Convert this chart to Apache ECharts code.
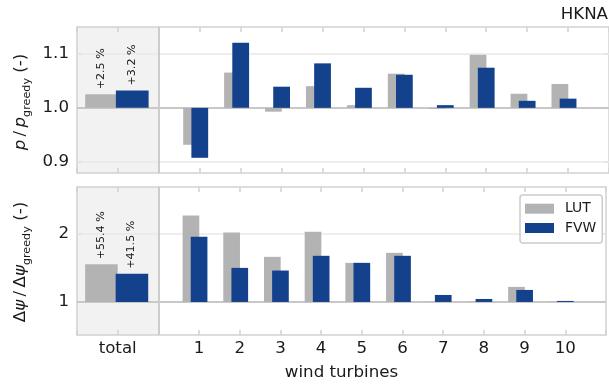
<!DOCTYPE html>
<html>
<head>
<meta charset="utf-8">
<script src="https://cdn.jsdelivr.net/npm/echarts@6/dist/echarts.min.js"></script>
<style>html,body{margin:0;padding:0;background:#fff}#c{width:609px;height:384px}</style>
</head>
<body>
<div id="c"></div>
<script>
// ---- data ----
const categories = ['total', '1', '2', '3', '4', '5', '6', '7', '8', '9', '10'];
const powerLUT = [1.025, 0.932, 1.065, 0.993, 1.040, 1.005, 1.063, 0.998, 1.098, 1.026, 1.044];
const powerFVW = [1.032, 0.908, 1.120, 1.039, 1.082, 1.037, 1.061, 1.005, 1.074, 1.013, 1.017];
const yawLUT = [1.554, 2.275, 2.024, 1.665, 2.034, 1.576, 1.724, 1.003, 1.005, 1.222, 1.005];
const yawFVW = [1.415, 1.960, 1.502, 1.463, 1.680, 1.576, 1.680, 1.103, 1.044, 1.177, 1.015];
const powerTotalLabels = ['+2.5 %', '+3.2 %'];
const yawTotalLabels = ['+55.4 %', '+41.5 %'];
const powerTicks = [0.9, 1.0, 1.1];
const yawTicks = [1, 2];
const seriesNames = ['LUT', 'FVW'];
const title = 'HKNA';

// ---- style ----
const FONT = 'DejaVu Sans';
const TXT = '#1a1a1a';
const GRAY = '#b3b3b3';
const BLUE = '#14418c';
const SPINE = '#d2d2d2';

function xPos(i) { return i === 0 ? 0 : i + 1; }
function build(values, label) {
  return values.map((v, i) => [xPos(i), v, i === 0 ? label : '']);
}

function makeRender(kind) {
  return function (params, api) {
    const x = api.value(0), v = api.value(1);
    const lab = api.value(2);
    const isTotal = x === 0;
    const w = isTotal ? 0.8 : 0.41;
    let off;
    if (kind === 0) off = isTotal ? -0.4 : -0.2;
    else off = isTotal ? 0.35 : 0;
    const p1 = api.coord([x + off - w / 2, 1]);
    const p2 = api.coord([x + off + w / 2, v]);
    const children = [{
      type: 'rect',
      shape: { x: Math.min(p1[0], p2[0]), y: Math.min(p1[1], p2[1]), width: Math.abs(p2[0] - p1[0]), height: Math.abs(p2[1] - p1[1]) },
      style: { fill: api.visual('color') }
    }];
    if (lab) {
      children.push({
        type: 'text',
        x: (p1[0] + p2[0]) / 2 - 0.5,
        y: Math.min(p1[1], p2[1]) - 5,
        rotation: Math.PI / 2,
        style: { text: lab, fontFamily: FONT, fontSize: 11.1, fill: TXT, align: 'left', verticalAlign: 'middle' }
      });
    }
    return { type: 'group', children: children };
  };
}

function xAxisDef(grid, pos, showLabels) {
  return {
    type: 'value', gridIndex: grid, position: pos, min: -1, max: 12, interval: 1,
    axisLine: { show: true, onZero: false, lineStyle: { color: SPINE, width: 1.5 } },
    axisTick: { show: true, inside: true, length: 5, lineStyle: { color: SPINE, width: 1.5 } },
    axisLabel: {
      show: showLabels, margin: 5, fontFamily: FONT, fontSize: 16.67, color: TXT,
      formatter: function (v) { if (v === 0) return categories[0]; if (v >= 2 && v <= 11) return categories[v - 1]; return ''; }
    },
    splitLine: { show: false },
    name: showLabels ? 'wind turbines' : '', nameLocation: 'middle', nameGap: 29,
    nameTextStyle: { fontFamily: FONT, fontSize: 16.67, color: TXT }
  };
}
function yAxisDef(grid, pos, min, max, ticks, showLabels, dec) {
  return {
    type: 'value', gridIndex: grid, position: pos, min: min, max: max,
    axisLine: { show: true, onZero: false, lineStyle: { color: SPINE, width: 1.5 } },
    axisTick: { show: true, inside: true, length: 5, customValues: ticks, lineStyle: { color: SPINE, width: 1.5 } },
    axisLabel: { show: showLabels, customValues: ticks, margin: 8, fontFamily: FONT, fontSize: 16.67, color: TXT,
      formatter: function (v) { return v.toFixed(dec); } },
    splitLine: { show: false }
  };
}

function backgroundSeries(xi, yi, gridVals) {
  return [{
    type: 'line', xAxisIndex: xi, yAxisIndex: yi, data: [], silent: true, z: 0,
    markArea: { silent: true, z: 0, itemStyle: { color: '#f2f2f2' }, data: [[{ xAxis: -1 }, { xAxis: 1 }]] }
  }, {
    type: 'line', xAxisIndex: xi, yAxisIndex: yi, data: [], silent: true, z: 1,
    markLine: {
      silent: true, z: 1, symbol: 'none', label: { show: false }, animation: false,
      data: gridVals.map(g => ({ yAxis: g, lineStyle: { color: '#e8e8e8', width: 1.5, type: 'solid' } }))
        .concat([
          { yAxis: 1, lineStyle: { color: '#c8c8c8', width: 2, type: 'solid' } },
          { xAxis: 1, lineStyle: { color: '#cccccc', width: 2, type: 'solid' } }
        ])
    }
  }];
}

const subRich = {
  i: { fontStyle: 'italic', fontSize: 16.67, lineHeight: 23, fontFamily: FONT },
  n: { fontSize: 16.67, lineHeight: 23, fontFamily: FONT },
  s: { fontSize: 11.2, lineHeight: 12, verticalAlign: 'bottom', fontFamily: FONT }
};

const chart = echarts.init(document.getElementById('c'), null, { renderer: 'canvas' });
chart.setOption({
  animation: false,
  backgroundColor: '#fff',
  grid: [
    { left: 77, top: 27, width: 533, height: 146 },
    { left: 77, top: 187, width: 533, height: 148 }
  ],
  xAxis: [xAxisDef(0, 'bottom', false), xAxisDef(0, 'top', false), xAxisDef(1, 'bottom', true), xAxisDef(1, 'top', false)],
  yAxis: [
    yAxisDef(0, 'left', 0.88, 1.149, powerTicks, true, 1),
    yAxisDef(0, 'right', 0.88, 1.149, powerTicks, false, 1),
    yAxisDef(1, 'left', 0.513, 2.694, yawTicks, true, 0),
    yAxisDef(1, 'right', 0.513, 2.694, yawTicks, false, 0)
  ],
  legend: {
    data: seriesNames, orient: 'vertical', left: 520, top: 195, icon: 'rect', z: 20,
    itemWidth: 29, itemHeight: 10, itemGap: 5.3,
    backgroundColor: '#fff', borderColor: '#cccccc', borderWidth: 1.5, borderRadius: 3,
    padding: [6.7, 6, 8, 5],
    textStyle: { fontFamily: FONT, fontSize: 13.9, color: TXT, lineHeight: 10, padding: [0, 0, 0, 6] }
  },
  graphic: [
    { type: 'text', right: 1, top: 6, style: { text: title, fontFamily: FONT, fontSize: 16.67, fill: TXT } },
    { type: 'text', x: 21, y: 102, rotation: Math.PI / 2,
      style: { text: '{i|p}\u2009/\u2009{i|p}{s|greedy} {n|(-)}', align: 'center', verticalAlign: 'middle', fill: TXT,
        fontFamily: FONT, fontSize: 16.67, lineHeight: 23, rich: subRich } },
    { type: 'text', x: 21, y: 262, rotation: Math.PI / 2,
      style: { text: 'Δ{i|ψ}\u2009/\u2009Δ{i|ψ}{s|greedy} {n|(-)}', align: 'center', verticalAlign: 'middle', fill: TXT,
        fontFamily: FONT, fontSize: 16.67, lineHeight: 23, rich: subRich } }
  ],
  series: [].concat(
    backgroundSeries(0, 0, [0.9, 1.1]),
    backgroundSeries(2, 2, [2]),
    [
      { name: seriesNames[0], type: 'custom', xAxisIndex: 0, yAxisIndex: 0, z: 10, itemStyle: { color: GRAY }, renderItem: makeRender(0), data: build(powerLUT, powerTotalLabels[0]) },
      { name: seriesNames[1], type: 'custom', xAxisIndex: 0, yAxisIndex: 0, z: 11, itemStyle: { color: BLUE }, renderItem: makeRender(1), data: build(powerFVW, powerTotalLabels[1]) },
      { name: seriesNames[0], type: 'custom', xAxisIndex: 2, yAxisIndex: 2, z: 10, itemStyle: { color: GRAY }, renderItem: makeRender(0), data: build(yawLUT, yawTotalLabels[0]) },
      { name: seriesNames[1], type: 'custom', xAxisIndex: 2, yAxisIndex: 2, z: 11, itemStyle: { color: BLUE }, renderItem: makeRender(1), data: build(yawFVW, yawTotalLabels[1]) }
    ]
  )
});
</script>
</body>
</html>
